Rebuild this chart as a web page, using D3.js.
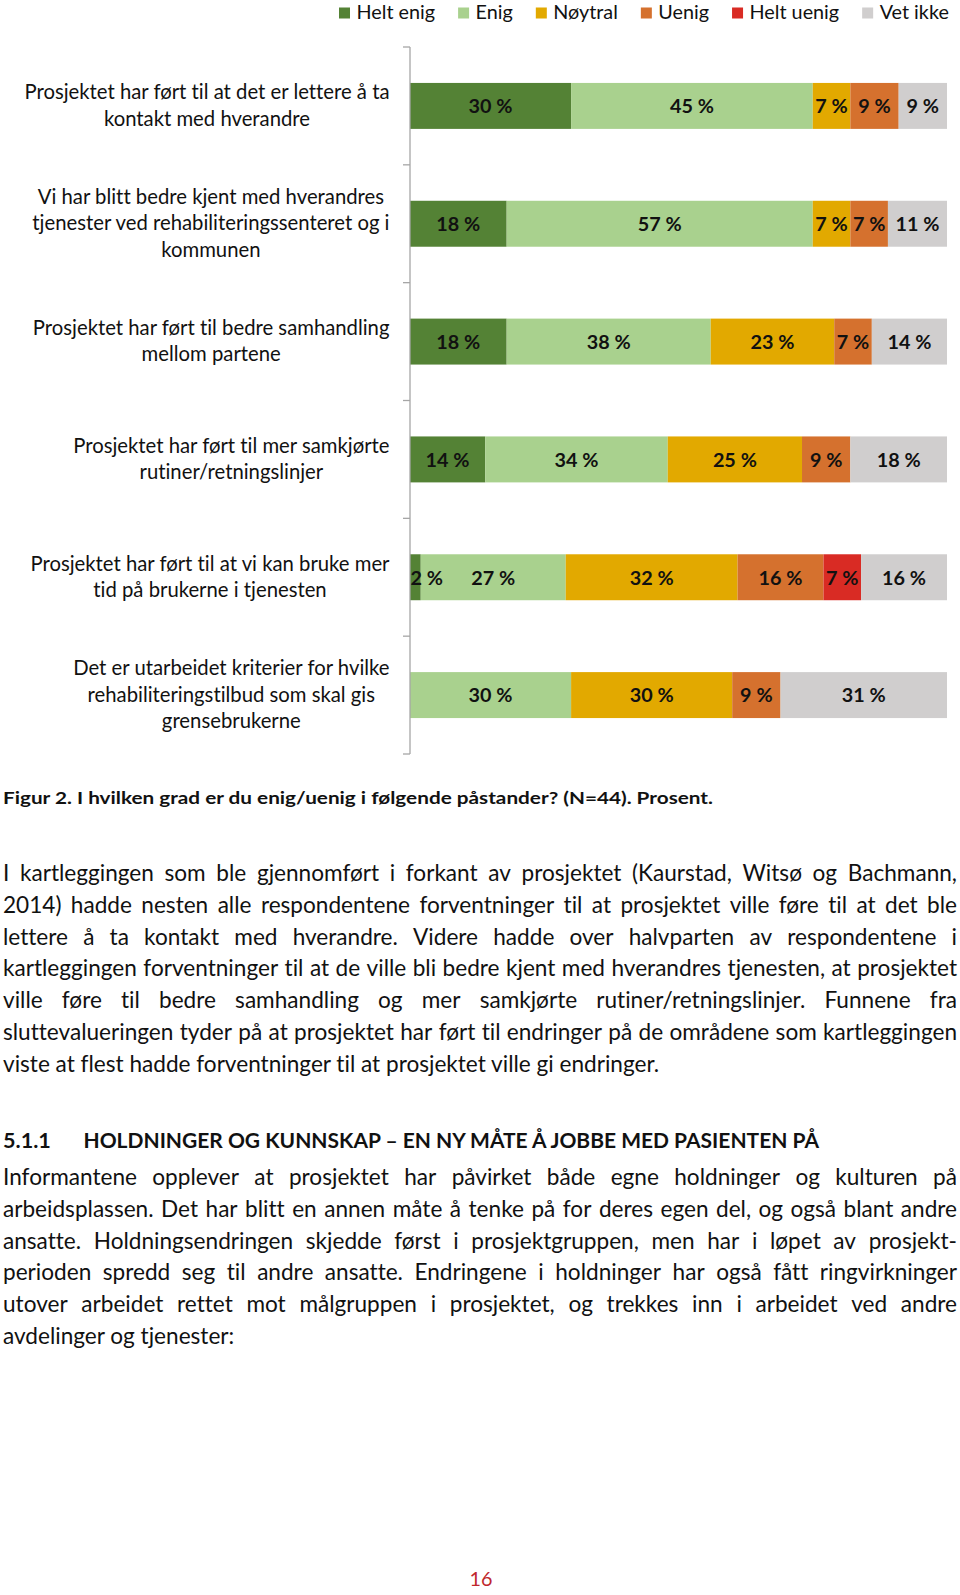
<!DOCTYPE html>
<html><head><meta charset="utf-8">
<script src="https://cdn.jsdelivr.net/npm/d3@7"></script>
<style>
body{margin:0;background:#fff}
svg{display:block}
text{font-variant-ligatures:none;font-feature-settings:"liga" 0,"clig" 0,"dlig" 0}
</style>
</head><body>
<svg id="c" width="960" height="1595"></svg>
<script>
// ---------- DATA ----------
const categories = [
  ["Prosjektet har ført til at det er lettere å ta", "kontakt med hverandre"],
  ["Vi har blitt bedre kjent med hverandres", "tjenester ved rehabiliteringssenteret og i", "kommunen"],
  ["Prosjektet har ført til bedre samhandling", "mellom partene"],
  ["Prosjektet har ført til mer samkjørte", "rutiner/retningslinjer"],
  ["Prosjektet har ført til at vi kan bruke mer", "tid på brukerne i tjenesten"],
  ["Det er utarbeidet kriterier for hvilke", "rehabiliteringstilbud som skal gis", "grensebrukerne"]
];
const seriesNames = ["Helt enig", "Enig", "Nøytral", "Uenig", "Helt uenig", "Vet ikke"];
const heltEnig  = [30, 18, 18, 14, 2, 0];
const enig      = [45, 57, 38, 34, 27, 30];
const noytral   = [7, 7, 23, 25, 32, 30];
const uenig     = [9, 7, 7, 9, 16, 9];
const heltUenig = [0, 0, 0, 0, 7, 0];
const vetIkke   = [9, 11, 14, 18, 16, 31];
const seriesColors = ["#548235", "#A9D18E", "#E2A900", "#D5712E", "#D92B24", "#D0CECE"];

const caption = "Figur 2. I hvilken grad er du enig/uenig i følgende påstander? (N=44). Prosent.";
const para1 = [
  "I kartleggingen som ble gjennomført i forkant av prosjektet (Kaurstad, Witsø og Bachmann,",
  "2014) hadde nesten alle respondentene forventninger til at prosjektet ville føre til at det ble",
  "lettere å ta kontakt med hverandre. Videre hadde over halvparten av respondentene i",
  "kartleggingen forventninger til at de ville bli bedre kjent med hverandres tjenesten, at prosjektet",
  "ville føre til bedre samhandling og mer samkjørte rutiner/retningslinjer. Funnene fra",
  "sluttevalueringen tyder på at prosjektet har ført til endringer på de områdene som kartleggingen",
  "viste at flest hadde forventninger til at prosjektet ville gi endringer."
];
const headingNum = "5.1.1";
const headingText = "HOLDNINGER OG KUNNSKAP – EN NY MÅTE Å JOBBE MED PASIENTEN PÅ";
const para2 = [
  "Informantene opplever at prosjektet har påvirket både egne holdninger og kulturen på",
  "arbeidsplassen. Det har blitt en annen måte å tenke på for deres egen del, og også blant andre",
  "ansatte. Holdningsendringen skjedde først i prosjektgruppen, men har i løpet av prosjekt-",
  "perioden spredd seg til andre ansatte. Endringene i holdninger har også fått ringvirkninger",
  "utover arbeidet rettet mot målgruppen i prosjektet, og trekkes inn i arbeidet ved andre",
  "avdelinger og tjenester:"
];
const pageNumber = "16";

// ---------- BUILD ----------
const svg = d3.select("#c");
const FONT = "Lato, 'Open Sans', sans-serif";
const chartFS = 19.8;
const labelFS = 20.3;

const rows = categories.map((c, i) => ({
  cat: i, "Helt enig": heltEnig[i], "Enig": enig[i], "Nøytral": noytral[i],
  "Uenig": uenig[i], "Helt uenig": heltUenig[i], "Vet ikke": vetIkke[i]
}));
const stack = d3.stack().keys(seriesNames)(rows);

const x = d3.scaleLinear().domain([0, 100]).range([410, 947]);
const y = d3.scaleBand().domain(d3.range(categories.length)).range([47, 754])
  .paddingInner(0.61).paddingOuter(0.305);
const color = d3.scaleOrdinal().domain(seriesNames).range(seriesColors);

// bars
const gBars = svg.append("g");
stack.forEach(s => {
  gBars.append("g").attr("fill", color(s.key)).selectAll("rect")
    .data(s.filter(d => d[1] - d[0] > 0)).join("rect")
    .attr("x", d => x(d[0])).attr("width", d => x(d[1]) - x(d[0]))
    .attr("y", d => y(d.data.cat)).attr("height", y.bandwidth());
});
// value labels (kept inside the plot area on the left)
stack.forEach(s => {
  gBars.append("g").selectAll("text")
    .data(s.filter(d => d[1] - d[0] > 0)).join("text")
    .attr("y", d => y(d.data.cat) + y.bandwidth() / 2 + 7.3)
    .attr("text-anchor", "middle")
    .attr("font-family", FONT).attr("font-weight", 700).attr("font-size", chartFS)
    .attr("fill", "#111")
    .text(d => (d[1] - d[0]) + " %")
    .each(function(d) {
      const w = this.getComputedTextLength();
      const cx = Math.max((x(d[0]) + x(d[1])) / 2, x(0) + w / 2 + 0.5);
      d3.select(this).attr("x", cx);
    });
});

// y axis line and ticks
const gAxis = svg.append("g").attr("stroke", "#A6A6A6").attr("stroke-width", 1.3);
const yr = y.range();
gAxis.append("line").attr("x1", 410).attr("x2", 410).attr("y1", yr[0]).attr("y2", yr[1]);
d3.range(categories.length + 1).forEach(i => {
  const yy = yr[0] + i * y.step();
  gAxis.append("line").attr("x1", 403).attr("x2", 410).attr("y1", yy).attr("y2", yy);
});

// category labels (centered lines, block right edge at 389.5)
const gLab = svg.append("g").attr("font-family", FONT).attr("font-size", labelFS).attr("fill", "#111");
categories.forEach((lines, i) => {
  const cy = y(i) + y.bandwidth() / 2;
  const t = gLab.append("text").attr("text-anchor", "middle");
  const spans = lines.map((ln, j) => t.append("tspan")
    .attr("y", cy + 6.5 + (j - (lines.length - 1) / 2) * 26.5).text(ln));
  const maxW = d3.max(spans, s => s.node().getComputedTextLength());
  spans.forEach(s => s.attr("x", 389.5 - maxW / 2));
});

// legend
const gLeg = svg.append("g").attr("font-family", FONT).attr("font-size", chartFS).attr("fill", "#111");
let lx = 339;
seriesNames.forEach(n => {
  gLeg.append("rect").attr("x", lx).attr("y", 7.5).attr("width", 11).attr("height", 11).attr("fill", color(n));
  const t = gLeg.append("text").attr("x", lx + 17.5).attr("y", 18.5).text(n);
  lx += 17.5 + t.node().getComputedTextLength() + 23;
});

// caption
svg.append("text").attr("x", 3).attr("y", 804)
  .attr("font-family", FONT).attr("font-weight", 700).attr("font-size", 17.5).attr("fill", "#111")
  .attr("textLength", 710).attr("lengthAdjust", "spacingAndGlyphs").text(caption);

// paragraphs (justified by word placement)
const bodyFS = 22.6;
function paragraph(lines, y0, lh) {
  const g = svg.append("g").attr("font-family", FONT).attr("font-size", bodyFS).attr("fill", "#111");
  lines.forEach((ln, i) => {
    const yy = y0 + i * lh;
    const last = i === lines.length - 1;
    if (last) { g.append("text").attr("x", 3).attr("y", yy).text(ln); return; }
    const words = ln.split(" ");
    const spans = words.map(w => g.append("text").attr("y", yy).text(w));
    let widths = spans.map(s => s.node().getComputedTextLength());
    const minGap = 4;
    let gap = (954 - d3.sum(widths)) / (words.length - 1);
    if (gap < minGap) {
      const k = (954 - minGap * (words.length - 1)) / d3.sum(widths);
      widths = widths.map(w => w * k);
      spans.forEach((s, j) => s.attr("textLength", widths[j]).attr("lengthAdjust", "spacingAndGlyphs"));
      gap = minGap;
    }
    let cx = 3;
    spans.forEach((s, k) => { s.attr("x", cx); cx += widths[k] + gap; });
  });
}
paragraph(para1, 881, 31.8);

// heading
const gH = svg.append("g").attr("font-family", FONT).attr("font-weight", 700).attr("font-size", 21.6).attr("fill", "#111");
gH.append("text").attr("x", 3).attr("y", 1148).text(headingNum);
gH.append("text").attr("x", 83.5).attr("y", 1148).attr("textLength", 735.5)
  .attr("lengthAdjust", "spacingAndGlyphs").text(headingText);

paragraph(para2, 1185, 31.8);

// page number
svg.append("text").attr("x", 481).attr("y", 1586).attr("text-anchor", "middle")
  .attr("font-family", FONT).attr("font-size", 19.8).attr("fill", "#C0272D").text(pageNumber);
</script>
</body></html>
